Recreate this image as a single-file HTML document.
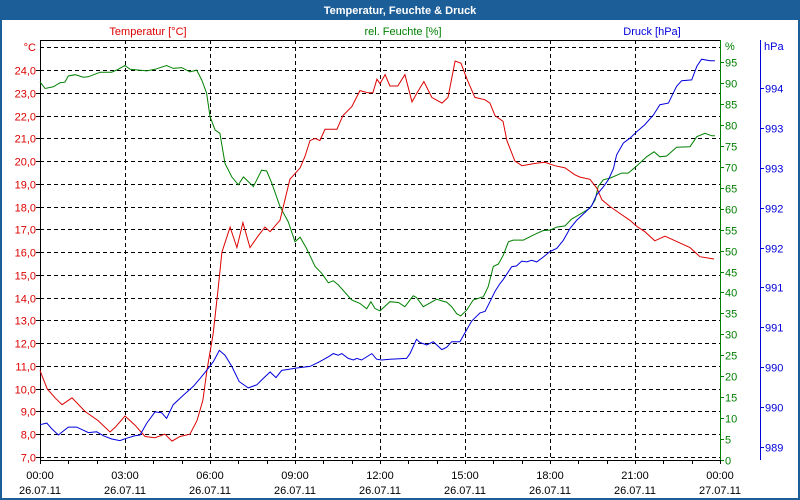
<!DOCTYPE html>
<html><head><meta charset="utf-8"><style>
html,body{margin:0;padding:0;background:#fff}
#wrap{position:relative;width:800px;height:500px;overflow:hidden}
svg text{font-family:"Liberation Sans","DejaVu Sans",sans-serif;font-size:11px}
</style></head><body>
<div id="wrap">
<svg id="chart" width="800" height="500"></svg>
</div>
<script>
const tempHours=[0,0.25,0.53,0.78,1.13,1.59,2.05,2.47,2.65,3.00,3.35,3.71,4.06,4.41,4.66,4.94,5.29,5.54,5.75,5.89,6.11,6.28,6.42,6.71,6.95,7.16,7.41,7.69,7.94,8.12,8.47,8.82,9.18,9.35,9.53,9.71,9.88,10.06,10.48,10.69,11.01,11.29,11.58,11.75,11.89,12.00,12.18,12.35,12.63,12.88,13.13,13.31,13.55,13.83,14.19,14.40,14.65,14.86,15.07,15.35,15.70,15.88,16.06,16.34,16.48,16.76,17.01,17.47,17.82,18.17,18.53,18.88,19.06,19.41,19.66,19.83,20.12,20.47,20.82,21.10,21.35,21.70,22.06,22.59,22.94,23.29,23.79];
const tempValues=[10.8,10.0,9.6,9.3,9.6,9.0,8.6,8.1,8.3,8.8,8.4,7.9,7.85,8.0,7.7,7.9,8.0,8.6,9.5,10.8,12.4,14.3,16.0,17.1,16.2,17.3,16.2,16.7,17.1,16.9,17.4,19.2,19.7,20.2,20.9,21.0,20.9,21.4,21.4,22.0,22.4,23.1,23.0,23.0,23.6,23.4,23.8,23.3,23.3,23.8,22.6,23.0,23.5,22.8,22.55,22.8,24.4,24.3,23.6,22.8,22.7,22.55,22.0,21.75,20.9,20.0,19.8,19.9,19.95,19.8,19.7,19.4,19.3,19.2,18.8,18.3,18.0,17.7,17.4,17.1,16.9,16.5,16.7,16.4,16.2,15.8,15.7];
const humHours=[0,0.18,0.47,0.71,0.88,1.00,1.24,1.53,1.70,2.12,2.53,2.76,3.00,3.18,3.77,4.06,4.47,4.70,5.00,5.29,5.53,5.71,5.88,6.00,6.18,6.35,6.53,6.77,7.00,7.18,7.53,7.82,8.00,8.18,8.47,8.76,9.00,9.18,9.41,9.71,9.94,10.18,10.35,10.53,11.00,11.29,11.53,11.68,11.82,12.00,12.35,12.65,12.88,13.17,13.29,13.53,14.00,14.18,14.35,14.53,14.71,14.85,15.06,15.29,15.65,15.82,16.00,16.18,16.35,16.53,16.70,17.06,17.41,17.76,18.00,18.24,18.53,18.76,19.06,19.41,19.59,19.70,19.88,20.12,20.53,20.76,21.06,21.41,21.67,21.88,22.12,22.47,22.94,23.18,23.47,23.71,23.82];
const humValues=[90.3,88.7,89.1,90.1,90.2,91.7,92.0,91.4,91.5,92.6,92.6,93.3,94.2,93.3,92.9,93.3,94.2,93.5,93.7,92.7,93.1,90.7,87.6,82.0,78.8,78.0,70.8,67.6,65.7,67.6,65.3,69.2,69.0,66.1,60.5,56.9,52.1,53.2,50.5,46.2,44.6,42.3,42.8,41.8,38.2,37.4,36.1,37.8,36.2,35.6,37.8,37.6,36.6,39.2,38.8,36.6,38.4,38.0,37.7,36.6,34.9,34.4,35.8,38.2,39.0,41.4,46.2,46.8,48.9,52.1,52.5,52.5,53.7,54.8,54.9,55.6,55.9,57.5,58.7,60.1,62.1,65.3,66.9,67.3,68.5,68.5,70.2,72.4,73.6,72.4,72.6,74.7,74.8,77.2,78.0,77.4,77.4];
const presHours=[0,0.24,0.41,0.65,1.00,1.29,1.71,2.00,2.24,2.53,2.82,3.06,3.35,3.53,3.77,4.06,4.29,4.47,4.70,5.06,5.41,5.65,5.88,6.12,6.33,6.53,6.77,7.03,7.35,7.65,7.88,8.12,8.33,8.53,8.71,9.06,9.53,9.88,10.18,10.35,10.53,10.65,10.88,11.06,11.18,11.35,11.71,11.88,12.06,12.35,12.94,13.06,13.29,13.41,13.65,13.88,14.18,14.35,14.53,14.82,15.06,15.24,15.53,15.71,15.88,16.06,16.24,16.35,16.65,16.82,17.00,17.18,17.35,17.53,17.76,18.00,18.24,18.47,18.71,18.94,19.24,19.47,19.65,19.88,20.06,20.24,20.35,20.59,20.82,21.06,21.35,21.65,21.88,22.18,22.47,22.65,23.00,23.18,23.35,23.65,23.82];
const presValues=[989.58,989.60,989.53,989.45,989.55,989.55,989.48,989.49,989.44,989.40,989.38,989.41,989.44,989.45,989.60,989.74,989.73,989.66,989.83,989.95,990.06,990.16,990.26,990.37,990.51,990.45,990.31,990.12,990.04,990.08,990.16,990.24,990.17,990.26,990.27,990.29,990.31,990.37,990.43,990.47,990.45,990.47,990.41,990.39,990.41,990.39,990.47,990.40,990.39,990.40,990.41,990.47,990.65,990.61,990.58,990.62,990.52,990.55,990.62,990.62,990.77,990.88,990.98,991.00,991.12,991.25,991.35,991.40,991.56,991.57,991.63,991.62,991.64,991.62,991.68,991.75,991.79,991.89,992.04,992.14,992.24,992.32,992.46,992.56,992.65,992.79,992.96,993.11,993.17,993.25,993.34,993.46,993.59,993.61,993.82,993.89,993.90,994.07,994.16,994.14,994.14];
const tempTicks=[7,8,9,10,11,12,13,14,15,16,17,18,19,20,21,22,23,24];
const humTicks=[0,5,10,15,20,25,30,35,40,45,50,55,60,65,70,75,80,85,90,95];
const presTicks=[989.3,989.8,990.3,990.8,991.3,991.8,992.3,992.8,993.3,993.8];
const timeLabels=["00:00","03:00","06:00","09:00","12:00","15:00","18:00","21:00","00:00"];
const dateLabels=["26.07.11","26.07.11","26.07.11","26.07.11","26.07.11","26.07.11","26.07.11","26.07.11","27.07.11"];

const X0=40,X1=720,Y0=40,Y1=460;
const xs=h=>X0+h*(X1-X0)/24;
const yT=t=>457-(t-7)*22.76;
const yH=v=>460-v*4.188;
const yP=p=>447-(p-989.3)*79.8;
const RED="#dd0000",GREEN="#008000",BLUE="#0000dd";
const svg=document.getElementById('chart');
const NS="http://www.w3.org/2000/svg";
function mk(tag,attrs,parent){const e=document.createElementNS(NS,tag);for(const k in attrs)e.setAttribute(k,attrs[k]);(parent||svg).appendChild(e);return e;}
function txt(x,y,s,fill,anchor,extra){const t=mk('text',Object.assign({x:x,y:y,fill:fill,'text-anchor':anchor||'start'},extra||{}));t.textContent=s;return t;}

// frame & title
let e;
e=mk('rect',{x:0,y:0,width:800,height:500,fill:'#1c5e98'});


e=mk('rect',{x:2,y:20,width:796,height:478,fill:'#ffffff'});


e=txt(400,14,'Temperatur, Feuchte & Druck','#ffffff','middle',{'font-weight':'bold','font-size':'12'});



// series titles
e=txt(148,35,'Temperatur [°C]',RED,'middle');


e=txt(403,35,'rel. Feuchte [%]',GREEN,'middle');


e=txt(652,35,'Druck [hPa]',BLUE,'middle');


e=txt(36,51,'°C',RED,'end');


e=txt(725,50,'%',GREEN,'start');


e=txt(764,50,'hPa',BLUE,'start');



// grid
const grid=mk('g',{stroke:'#000','stroke-width':1,'stroke-dasharray':'4,3'});


for(let t=7;t<=25;t++){const y=Math.round(yT(t))+0.5;e=mk('line',{x1:X0,x2:X1,y1:y,y2:y},grid);

}
for(let h=3;h<24;h+=3){const x=Math.round(xs(h))+0.5;e=mk('line',{x1:x,x2:x,y1:Y0,y2:Y1},grid);

}

// axes lines
e=mk('line',{x1:X0+0.5,x2:X0+0.5,y1:Y0,y2:Y1+1,stroke:'#000'});


e=mk('line',{x1:X0,x2:X1,y1:Y0+0.5,y2:Y0+0.5,stroke:'#000'});


e=mk('line',{x1:X0,x2:X1,y1:Y1+0.5,y2:Y1+0.5,stroke:'#000'});


e=mk('line',{x1:X1+0.5,x2:X1+0.5,y1:Y0,y2:Y1+1,stroke:GREEN});


e=mk('line',{x1:760.5,x2:760.5,y1:Y0,y2:Y1,stroke:BLUE});



// temp ticks
tempTicks.forEach(t=>{const y=Math.round(yT(t))+0.5;
e=mk('line',{x1:36,x2:40,y1:y,y2:y,stroke:'#000'});


e=txt(36,y+4,t.toFixed(1).replace('.',','),RED,'end');

});
humTicks.forEach(v=>{const y=Math.round(yH(v))+0.5;
e=mk('line',{x1:720,x2:724,y1:y,y2:y,stroke:GREEN});


e=txt(725,y+4,String(v),GREEN,'start');

});
presTicks.forEach(p=>{const y=Math.round(yP(p))+0.5;
e=mk('line',{x1:760,x2:764,y1:y,y2:y,stroke:BLUE});


e=txt(765,y+4,String(Math.round(p)),BLUE,'start');

});
for(let h=0;h<=24;h++){const x=Math.round(xs(h))+0.5;
e=mk('line',{x1:x,x2:x,y1:460,y2:464,stroke:'#000'});

}
timeLabels.forEach((s,i)=>{const x=xs(i*3);
e=txt(x,479,s,'#000','middle');


e=txt(x,494,dateLabels[i],'#000','middle');

});

function series(hours,vals,yf,color,name){
  const d=hours.map((h,i)=>(i?'L':'M')+xs(h).toFixed(1)+','+yf(vals[i]).toFixed(1)).join(' ');
  const p=mk('path',{d:d,fill:'none',stroke:color,'stroke-width':1});
  
  
}
series(humHours,humValues,yH,GREEN,'humidity-line');
series(tempHours,tempValues,yT,RED,'temperature-line');
series(presHours,presValues,yP,BLUE,'pressure-line');
</script>
</body></html>
